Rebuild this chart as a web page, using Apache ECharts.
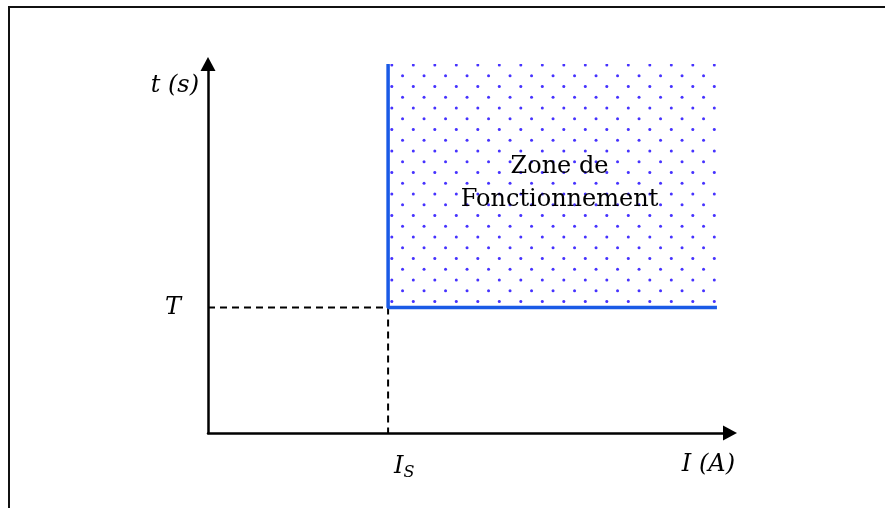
<!DOCTYPE html>
<html><head><meta charset="utf-8">
<script src="https://cdn.jsdelivr.net/npm/echarts@6/dist/echarts.min.js"></script>
<style>html,body{margin:0;padding:0;background:#fff}#c{width:885px;height:508px}</style>
</head><body><div id="c"></div>
<script>
// ---- data ----
const xRange = [0, 100];
const yRange = [0, 100];
const Is = 34.5;          // seuil de courant
const T = 34;             // temporisation
const zoneRight = 97.5;
const zoneTop = 100;
const xTickValues = [Is];
const yTickValues = [T];
const xAxisName = 'I (A)';
const yAxisName = 't (s)';
const zoneLabel = ['Zone de', 'Fonctionnement'];
const boundary = [[Is, zoneTop], [Is, T], [zoneRight, T]];
const guide = [[0, T], [Is, T], [Is, 0]];

// ---- dotted pattern ----
function dotPattern() {
  const s = 43, c = document.createElement('canvas');
  c.width = s; c.height = s;
  const g = c.getContext('2d');
  g.fillStyle = 'rgb(70,50,255)';
  const h = 10.75;
  for (let j = 0; j < 4; j++) {
    const y = (22 + h * j) % s;
    for (let i = 0; i < 2; i++) {
      const x = (26.3 - (j % 2) * h + 21.5 * i + s) % s;
      for (const dx of [-s, 0, s]) for (const dy of [-s, 0, s]) {
        g.beginPath(); g.arc(x + dx, y + dy, 1.5, 0, Math.PI * 2); g.fill();
      }
    }
  }
  return c;
}

const serif = 'DejaVu Serif';
const chart = echarts.init(document.getElementById('c'), null, {renderer: 'canvas'});
chart.setOption({
  animation: false,
  backgroundColor: '#fff',
  grid: {left: 208, right: 155, top: 64, bottom: 75},
  xAxis: {
    type: 'value', min: xRange[0], max: xRange[1],
    splitLine: {show: false}, axisTick: {show: false},
    axisLine: {show: true, symbol: ['none', 'triangle'], symbolSize: [15, 14],
      lineStyle: {color: '#000', width: 2.5}},
    axisLabel: {
      customValues: xTickValues, margin: 19, align: 'left',
      formatter: () => '{i|I}{s|S}',
      rich: {
        i: {fontFamily: serif, fontStyle: 'italic', fontSize: 24, color: '#000', padding: [0, 0, 0, 6]},
        s: {fontFamily: serif, fontStyle: 'italic', fontSize: 16, color: '#000', padding: [13, 0, 0, 0]}
      }
    },
    name: xAxisName, nameLocation: 'end', nameGap: 5,
    nameTextStyle: {fontFamily: serif, fontStyle: 'italic', fontSize: 24, color: '#000',
      align: 'right', verticalAlign: 'top', padding: [20, 0, 0, 0]}
  },
  yAxis: {
    type: 'value', min: yRange[0], max: yRange[1],
    splitLine: {show: false}, axisTick: {show: false},
    axisLine: {show: true, symbol: ['none', 'triangle'], symbolSize: [15, 14],
      lineStyle: {color: '#000', width: 2.5}},
    axisLabel: {
      customValues: yTickValues, margin: 27, formatter: () => 'T',
      fontFamily: serif, fontStyle: 'italic', fontSize: 24, color: '#000',
      padding: [6, 0, 0, 0]
    },
    name: yAxisName, nameLocation: 'end', nameGap: -22,
    nameTextStyle: {fontFamily: serif, fontStyle: 'italic', fontSize: 24, color: '#000',
      align: 'right', verticalAlign: 'middle', padding: [0, 9, 0, 0]}
  },
  series: [
    {
      type: 'line', data: guide, symbol: 'none', silent: true,
      lineStyle: {color: '#000', width: 2, type: [7, 5]}, z: 3
    },
    {
      type: 'line', data: boundary, symbol: 'none', silent: true,
      lineStyle: {color: '#1a5ae6', width: 3.5}, z: 4,
      markArea: {
        silent: true,
        itemStyle: {color: {image: dotPattern(), repeat: 'repeat'}},
        label: {show: true, position: 'inside', offset: [7, -3],
          formatter: zoneLabel.join('\n'),
          fontFamily: serif, fontSize: 24, lineHeight: 33, color: '#000'},
        data: [[{coord: [Is, T]}, {coord: [zoneRight, zoneTop]}]]
      }
    }
  ],
  graphic: [
    {type: 'line', shape: {x1: 9, y1: 7, x2: 885, y2: 7}, style: {stroke: '#111', lineWidth: 2}, silent: true},
    {type: 'line', shape: {x1: 9, y1: 6, x2: 9, y2: 508}, style: {stroke: '#111', lineWidth: 2}, silent: true}
  ]
});
</script>
</body></html>
